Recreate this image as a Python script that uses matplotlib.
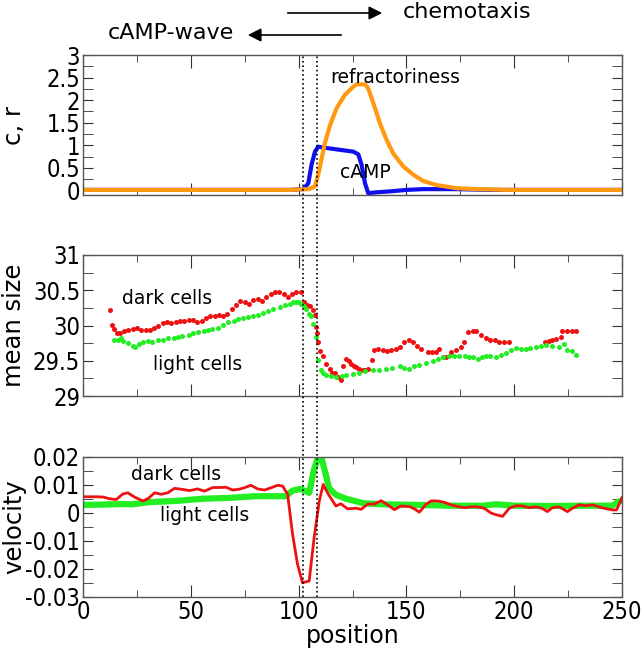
import numpy as np
import matplotlib
matplotlib.use('Agg')
import matplotlib.pyplot as plt
from matplotlib.ticker import MultipleLocator
from matplotlib import font_manager

plt.rcParams['font.family'] = ['DejaVu Sans']

# top panel: cAMP and refractoriness along the position axis
camp_x = [0, 96, 102.2, 104.5, 106, 107.6, 109.1, 111.5, 119.2, 125.4, 127.7, 129.2, 130.8,
          132.3, 136.2, 142.4, 150.1, 157.8, 173.3, 188.8, 250]
camp_y = [0.013, 0.013, 0.03, 0.16, 0.57, 0.86, 0.97, 0.95, 0.90, 0.86, 0.80, 0.57, 0.16,
          -0.06, -0.04, -0.02, 0.013, 0.03, 0.03, 0.013, 0.013]

refr_x = [0, 96, 104.5, 107.6, 109.1, 110.7, 112.2, 114.6, 117.6, 121.5, 125.4, 126.9, 130.8,
          132.3, 134.7, 137.7, 140.8, 143.9, 148.6, 153.2, 157.8, 164, 173.3, 182.6, 196.5, 250]
refr_y = [0.013, 0.013, 0.03, 0.09, 0.35, 0.71, 1.05, 1.45, 1.82, 2.12, 2.30, 2.35, 2.35,
          2.26, 1.93, 1.49, 1.12, 0.82, 0.53, 0.35, 0.21, 0.12, 0.05, 0.03, 0.013, 0.013]

# middle panel: mean cell size
dark_size_x = [12.5, 13.3, 14.5, 15.6, 17, 19, 21, 23, 25, 27, 29, 31, 33, 35, 37, 39, 41, 43,
               45, 47, 49, 51, 53, 55, 57, 59, 61, 63, 65, 67, 69, 71, 73, 75, 77, 79, 81, 83,
               85, 87, 89, 91, 93, 95, 97, 99, 101, 102.5, 104, 105.5, 106.8, 107.5, 108, 108.5,
               109, 110, 111.3, 112.8, 114.4, 115.5, 116.7, 118.2, 119.5, 120.8, 122.1, 123.3,
               124.4, 125.5, 126.7, 128, 129.8, 131, 132.1, 133.9, 135.2, 137, 139, 141, 143,
               145, 147, 149, 151, 153, 155, 157, 159.9, 162, 163.7, 165.3, 166.8, 168.4, 170.7,
               173, 175.3, 176.9, 178.4, 180.7, 182.5, 184.6, 186.9, 189, 191, 193, 195.4, 197.7,
               214.4, 216, 217.5, 219.3, 221.6, 222.4, 224.7, 227, 228.5]
dark_size_y = [30.22, 30.01, 29.95, 29.90, 29.90, 29.92, 29.94, 29.95, 29.96, 29.94, 29.93, 29.93,
               29.96, 29.99, 30.03, 30.05, 30.03, 30.05, 30.07, 30.06, 30.08, 30.08, 30.05, 30.06,
               30.10, 30.13, 30.14, 30.15, 30.14, 30.17, 30.23, 30.29, 30.35, 30.33, 30.31, 30.36,
               30.38, 30.35, 30.40, 30.44, 30.48, 30.48, 30.45, 30.41, 30.44, 30.47, 30.48, 30.33,
               30.29, 30.27, 30.22, 30.15, 29.98, 29.90, 29.77, 29.64, 29.57, 29.45, 29.38, 29.33,
               29.32, 29.27, 29.22, 29.43, 29.52, 29.49, 29.46, 29.43, 29.41, 29.39, 29.37, 29.37,
               29.38, 29.51, 29.65, 29.66, 29.65, 29.64, 29.65, 29.66, 29.70, 29.77, 29.79, 29.77,
               29.71, 29.66, 29.63, 29.63, 29.63, 29.66, 29.56, 29.56, 29.62, 29.65, 29.70, 29.77,
               29.91, 29.92, 29.92, 29.87, 29.82, 29.80, 29.79, 29.77, 29.76, 29.76,
               29.76, 29.78, 29.79, 29.81, 29.83, 29.92, 29.92, 29.92, 29.92]

light_size_x = [14.5, 16.4, 17.5, 18.7, 21, 23, 24, 26, 28, 30, 32, 35, 37, 39.5, 42, 44, 46, 49,
                51, 53.4, 56, 58, 60, 62.6, 65, 67.3, 70, 72, 74, 76.5, 79, 81.2, 83.5, 85.8, 88,
                91.2, 93.5, 95.8, 97.5, 98.9, 100, 101.2, 102.5, 103.6, 105, 105.9, 106.9, 107.9,
                108.9, 110.2, 111.5, 112.8, 115, 117.4, 120, 122.1, 125, 128.2, 131, 134.4, 137.5,
                140.6, 143.5, 146.8, 149, 151.4, 153.5, 156, 159, 162.2, 164.5, 166.8, 169.9, 172,
                174.5, 177, 179.2, 181, 183, 185, 186.9, 189, 191.5, 194, 196.1, 198.5, 200.8, 203,
                205.4, 207.5, 210, 212.5, 214.7, 217.7, 220.8, 223.1, 224.7, 227, 228.6]
light_size_y = [29.79, 29.80, 29.82, 29.78, 29.75, 29.71, 29.70, 29.74, 29.77, 29.78, 29.77, 29.79,
                29.80, 29.82, 29.82, 29.83, 29.85, 29.87, 29.89, 29.91, 29.92, 29.94, 29.95, 29.96,
                30.01, 30.05, 30.07, 30.09, 30.10, 30.12, 30.13, 30.15, 30.18, 30.21, 30.23, 30.26,
                30.29, 30.31, 30.33, 30.34, 30.33, 30.31, 30.27, 30.23, 30.17, 30.13, 30.02, 29.84,
                29.51, 29.37, 29.32, 29.30, 29.28, 29.27, 29.28, 29.30, 29.31, 29.33, 29.35, 29.37,
                29.37, 29.38, 29.40, 29.42, 29.40, 29.39, 29.42, 29.44, 29.47, 29.50, 29.53, 29.56,
                29.57, 29.57, 29.57, 29.57, 29.56, 29.55, 29.53, 29.55, 29.57, 29.57, 29.56, 29.58,
                29.61, 29.65, 29.68, 29.67, 29.66, 29.68, 29.69, 29.71, 29.73, 29.71, 29.70, 29.74,
                29.65, 29.64, 29.58]

# bottom panel: velocity
dark_vel_x = [0, 6.2, 9.3, 12.3, 15.4, 18.5, 20.8, 23.9, 27.8, 30.1, 33.2, 36.3, 39.3, 42.4, 46.3,
              49.4, 53.2, 56.3, 60.2, 63.3, 66.3, 69.4, 72.5, 74.8, 77.9, 81, 84.1, 87.2, 90.3,
              92.6, 94.9, 97.2, 99.5, 101.8, 104.9, 107.2, 109.6, 111.4, 113.4, 117.3, 119.6,
              122.7, 126.7, 129, 132.1, 135.2, 138.3, 141.3, 144.4, 147.5, 151.4, 153.7, 156,
              159.1, 161.4, 164.5, 167.6, 170.7, 173.8, 176.8, 179.9, 183, 186.1, 189.2, 191.5,
              194.6, 197.7, 200.8, 203.8, 206.9, 210, 212.8, 215.4, 217.7, 220.8, 224.7, 227,
              230.1, 233.2, 236.2, 239.3, 241.6, 245.5, 247.5, 250]
dark_vel_y = [0.0058, 0.0058, 0.0057, 0.0051, 0.0048, 0.0068, 0.0072, 0.0057, 0.0043, 0.0051,
              0.0072, 0.0067, 0.0072, 0.0088, 0.0084, 0.0080, 0.0086, 0.0078, 0.0091, 0.0091,
              0.0092, 0.0082, 0.0085, 0.0090, 0.0099, 0.0086, 0.0082, 0.0090, 0.0099, 0.0096,
              0.0067, -0.0076, -0.0183, -0.0249, -0.0243, -0.0088, 0.0043, 0.0102, 0.0072,
              0.0025, 0.0033, 0.0015, 0.0017, 0.0013, 0.0032, 0.0032, 0.0044, 0.0029, 0.0012,
              0.0025, 0.0023, 0.0015, 0.0003, 0.0031, 0.0043, 0.0043, 0.0038, 0.0029, 0.0023,
              0.0019, 0.0022, 0.0022, 0.0017, 0.0000, -0.0006, -0.0012, 0.0017, 0.0026, 0.0025,
              0.0019, 0.0022, 0.0017, 0.0005, 0.0019, 0.0022, 0.0005, 0.0017, 0.0029, 0.0026,
              0.0029, 0.0022, 0.0017, 0.0011, 0.0011, 0.0055]

light_vel_x = [0, 9.3, 18.5, 23, 30.9, 43.2, 55.5, 67.9, 80.2, 94.1, 97.2, 101, 104.9, 107.2,
               108.8, 110.8, 114.2, 117.3, 121.9, 125, 129.8, 139, 154.5, 169.9, 185.3, 191.5,
               200.8, 216.2, 231.6, 245.5, 248.3, 250]
light_vel_y = [0.0029, 0.0030, 0.0032, 0.0031, 0.0039, 0.0043, 0.0051, 0.0054, 0.0060, 0.0060,
               0.0080, 0.0086, 0.0072, 0.0156, 0.0194, 0.0192, 0.0088, 0.0065, 0.0051, 0.0045,
               0.0035, 0.0031, 0.0029, 0.0026, 0.0026, 0.0031, 0.0026, 0.0025, 0.0026, 0.0026,
               0.0040, 0.0045]

wave_edges = [102, 108.5]
x_ticks = [0, 50, 100, 150, 200, 250]

# tall, narrow tick numbers like the original if the condensed face is there
cond_file = font_manager.findfont(font_manager.FontProperties(family='DejaVu Sans',
                                                              stretch='condensed'))
if 'Condensed' in cond_file:
    tick_font = font_manager.FontProperties(fname=cond_file, size=17)
else:
    tick_font = font_manager.FontProperties(family='DejaVu Sans', size=16)

W, H = 644, 653
fig = plt.figure(figsize=(W / 100, H / 100), dpi=100)
left, width = 83 / W, 539 / W


def style_axis(ax, ymin, ymax, major, minor):
    ax.set_xlim(0, 250)
    ax.set_ylim(ymin, ymax)
    ax.xaxis.set_major_locator(MultipleLocator(50))
    ax.xaxis.set_minor_locator(MultipleLocator(25))
    ax.yaxis.set_major_locator(MultipleLocator(major))
    ax.yaxis.set_minor_locator(MultipleLocator(minor))
    ax.tick_params(which='both', direction='in', top=True, right=True, color='#333333', pad=2)
    ax.tick_params(axis='x', which='major', length=9)
    ax.tick_params(axis='x', which='minor', length=5)
    ax.tick_params(axis='y', which='both', length=7)
    for s in ax.spines.values():
        s.set_color('#555555')
        s.set_linewidth(1.0)


def set_yticks(ax, ticks, labels):
    ax.set_yticks(ticks)
    ax.set_yticklabels(labels, fontproperties=tick_font)


ax1 = fig.add_axes([left, 1 - 195 / H, width, 140 / H])
ax2 = fig.add_axes([left, 1 - 396 / H, width, 141 / H])
ax3 = fig.add_axes([left, 1 - 597 / H, width, 140 / H])

# top panel
ax1.plot(camp_x, camp_y, color='#1010ee', lw=3)
ax1.plot(refr_x, refr_y, color='#ff9a10', lw=3)
style_axis(ax1, -0.1, 3, 0.5, 0.25)
set_yticks(ax1, [0, 0.5, 1, 1.5, 2, 2.5, 3], ['0', '0.5', '1', '1.5', '2', '2.5', '3'])
ax1.set_xticklabels([])
ax1.set_ylabel('c, r', fontsize=17.5)
ax1.text(114.9, 2.5, 'refractoriness', fontsize=13.5, va='center')
ax1.text(119.2, 0.40, 'cAMP', fontsize=13.5, va='center')

# middle panel
ax2.plot(dark_size_x, dark_size_y, 'o', color='#ee1111', ms=3.6, mew=0)
ax2.plot(light_size_x, light_size_y, 'o', color='#22ee22', ms=3.6, mew=0)
style_axis(ax2, 29, 31, 0.5, 0.25)
set_yticks(ax2, [29, 29.5, 30, 30.5, 31], ['29', '29.5', '30', '30.5', '31'])
ax2.set_xticklabels([])
ax2.set_ylabel('mean size', fontsize=17.5)
ax2.text(18, 30.39, 'dark cells', fontsize=13.5, va='center')
ax2.text(32.4, 29.45, 'light cells', fontsize=13.5, va='center')

# bottom panel
ax3.plot(light_vel_x, light_vel_y, color='#22ee22', lw=4.5, solid_joinstyle='round')
ax3.plot(dark_vel_x, dark_vel_y, color='#ee1111', lw=2)
style_axis(ax3, -0.03, 0.02, 0.01, 0.005)
ax3.set_xticks(x_ticks)
ax3.set_xticklabels([str(t) for t in x_ticks], fontproperties=tick_font)
set_yticks(ax3, [-0.03, -0.02, -0.01, 0, 0.01, 0.02],
           ['-0.03', '-0.02', '-0.01', '0', '0.01', '0.02'])
ax3.set_ylabel('velocity', fontsize=17.5)
ax3.set_xlabel('position', fontsize=17, labelpad=0)
ax3.text(22.4, 0.0136, 'dark cells', fontsize=13.5, va='center')
ax3.text(35.8, -0.0009, 'light cells', fontsize=13.5, va='center')

# dotted lines marking the wave front, running through all panels
for xe in wave_edges:
    ax3.axvline(xe, ymin=0, ymax=(597 - 55) / 140, color='black', ls=':', lw=1.2, clip_on=False)

for ax in (ax1, ax2, ax3):
    ax.yaxis.set_label_coords(-0.105, 0.5)

# direction arrows above the plot
fig.text(403 / W, 1 - 12 / H, 'chemotaxis', fontsize=16, va='center')
fig.text(108 / W, 1 - 33 / H, 'cAMP-wave', fontsize=16, va='center')
fig.patches.append(matplotlib.patches.FancyArrowPatch(
    (285 / W, 1 - 13 / H), (385 / W, 1 - 13 / H), transform=fig.transFigure,
    arrowstyle='-|>', mutation_scale=20, color='black', lw=1.2))
fig.patches.append(matplotlib.patches.FancyArrowPatch(
    (344 / W, 1 - 35 / H), (245 / W, 1 - 35 / H), transform=fig.transFigure,
    arrowstyle='-|>', mutation_scale=20, color='black', lw=1.2))

fig.savefig('out.png', dpi=100)
